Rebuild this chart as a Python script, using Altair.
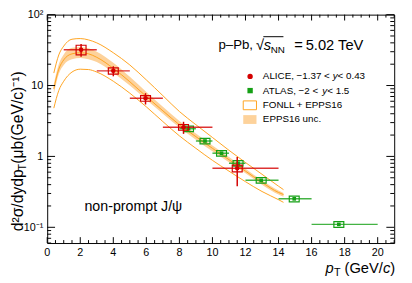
import altair as alt
import pandas as pd

# ---------------- data ----------------
curve_pt = [0.4, 0.7, 1.0, 1.5, 2.0, 2.5, 3.0, 4.0, 5.0, 6.0, 7.0, 8.0, 9.0, 10.0, 11.0, 12.0, 13.0, 14.0, 14.3]
fonll_central = [9.0, 17.0, 23.0, 28.0, 29.0, 28.0, 25.0, 17.5, 11.3, 7.0, 4.4, 2.8, 1.9, 1.3, 0.9, 0.62, 0.43, 0.31, 0.29]
fonll_upper = [15.0, 27.0, 36.0, 45.0, 46.0, 44.0, 40.0, 29.0, 19.5, 12.0, 7.2, 4.3, 2.8, 1.85, 1.22, 0.82, 0.56, 0.38, 0.34]
fonll_lower = [4.8, 8.5, 11.5, 15.5, 17.0, 16.8, 15.5, 11.5, 7.8, 5.0, 3.1, 1.95, 1.3, 0.88, 0.62, 0.44, 0.32, 0.245, 0.225]
epps_hi = [10.5, 20.0, 27.5, 34.0, 35.0, 33.5, 30.0, 21.0, 13.3, 8.1, 5.0, 3.15, 2.1, 1.43, 0.98, 0.67, 0.46, 0.33, 0.305]
epps_lo = [7.6, 14.5, 19.5, 23.5, 24.5, 23.5, 21.5, 15.2, 10.0, 6.3, 4.0, 2.55, 1.72, 1.18, 0.83, 0.58, 0.40, 0.29, 0.27]

alice_pt = [2.05, 4.0, 5.95, 8.25, 11.5]
alice_xlo = [1, 3, 5, 7, 10]
alice_xhi = [3, 5, 7, 10, 14]
alice_val = [32.0, 16.1, 6.6, 2.58, 0.68]
alice_stat = [6.5, 2.6, 1.2, 0.5, 0.3]
alice_syst = [5.0, 1.6, 0.6, 0.24, 0.075]

atlas_pt = [8.55, 9.55, 10.55, 11.55, 12.95, 14.95, 17.65]
atlas_xlo = [8, 9, 10, 11, 12, 14, 16]
atlas_xhi = [9, 10, 11, 12, 14, 16, 20]
atlas_val = [2.46, 1.65, 1.11, 0.80, 0.46, 0.252, 0.110]
atlas_stat = [0.08, 0.05, 0.035, 0.03, 0.015, 0.01, 0.005]
atlas_syst = [0.22, 0.15, 0.1, 0.072, 0.041, 0.023, 0.01]

x_major = [0, 2, 4, 6, 8, 10, 12, 14, 16, 18, 20]
x_labels = ["0", "2", "4", "6", "8", "10", "12", "14", "16", "18", "20"]
x_minor = [v / 2 for v in range(0, 43) if v % 4 != 0]
y_major = [0.1, 1, 10, 100]
y_labels = ["10⁻¹", "1", "10", "10²"]
y_minor = [0.06, 0.07, 0.08, 0.09] + [m * d for d in (0.1, 1, 10) for m in range(2, 10)]

# ---------------- layout / style ----------------
W, H = 354, 233
FONT = "Liberation Sans"
ORANGE = "#ffa31f"
BAND = "#fdd29b"
RED = "#d40000"
GREEN = "#15a015"

xs = alt.Scale(domain=[0, 21], nice=False, zero=False)
ys = alt.Scale(type="log", domain=[0.06, 100], nice=False)

curves = pd.DataFrame({
    "pt": curve_pt, "c": fonll_central, "u": fonll_upper, "l": fonll_lower,
    "bh": epps_hi, "bl": epps_lo,
})

band = alt.Chart(curves).mark_area(color=BAND, opacity=1, interpolate="monotone").encode(
    x=alt.X("pt:Q", scale=xs, axis=None),
    y=alt.Y("bl:Q", scale=ys, axis=None),
    y2="bh:Q",
)

def curve(col):
    return alt.Chart(curves).mark_line(color=ORANGE, strokeWidth=1, interpolate="monotone").encode(
        x=alt.X("pt:Q", scale=xs, axis=None),
        y=alt.Y(f"{col}:Q", scale=ys, axis=None),
    )

def dataset(pt, xlo, xhi, val, stat, syst, color, shape, halfw, msize):
    df = pd.DataFrame({"pt": pt, "xlo": xlo, "xhi": xhi, "val": val})
    df["slo"] = [v - s for v, s in zip(val, stat)]
    df["shi"] = [v + s for v, s in zip(val, stat)]
    df["ylo"] = [v - s for v, s in zip(val, syst)]
    df["yhi"] = [v + s for v, s in zip(val, syst)]
    df["bx1"] = [p - halfw for p in pt]
    df["bx2"] = [p + halfw for p in pt]
    base = alt.Chart(df)
    hbar = base.mark_rule(color=color, strokeWidth=1.5, opacity=0.8).encode(
        x=alt.X("xlo:Q", scale=xs, axis=None), x2="xhi:Q",
        y=alt.Y("val:Q", scale=ys, axis=None))
    vbar = base.mark_rule(color=color, strokeWidth=1.5).encode(
        x=alt.X("pt:Q", scale=xs, axis=None),
        y=alt.Y("slo:Q", scale=ys, axis=None), y2="shi:Q")
    box = base.mark_rect(fill=None, fillOpacity=0, stroke=color, strokeWidth=1.2).encode(
        x=alt.X("bx1:Q", scale=xs, axis=None), x2="bx2:Q",
        y=alt.Y("ylo:Q", scale=ys, axis=None), y2="yhi:Q")
    pts = base.mark_point(shape=shape, filled=True, color=color, size=msize, opacity=1).encode(
        x=alt.X("pt:Q", scale=xs, axis=None),
        y=alt.Y("val:Q", scale=ys, axis=None))
    return [hbar, vbar, box, pts]

# ---------------- ticks (inside frame, all four sides) ----------------
def xticks(vals, length):
    d = alt.Chart(pd.DataFrame({"v": vals}))
    bottom = d.mark_rule(color="black", strokeWidth=1).encode(
        x=alt.X("v:Q", scale=xs, axis=None), y=alt.value(H), y2=alt.value(H - length))
    top = d.mark_rule(color="black", strokeWidth=1).encode(
        x=alt.X("v:Q", scale=xs, axis=None), y=alt.value(0), y2=alt.value(length))
    return [bottom, top]

def yticks(vals, length):
    d = alt.Chart(pd.DataFrame({"v": vals}))
    left = d.mark_rule(color="black", strokeWidth=1).encode(
        y=alt.Y("v:Q", scale=ys, axis=None), x=alt.value(0), x2=alt.value(length))
    right = d.mark_rule(color="black", strokeWidth=1).encode(
        y=alt.Y("v:Q", scale=ys, axis=None), x=alt.value(W), x2=alt.value(W - length))
    return [left, right]

# tick labels, placed with the scales
xlab = alt.Chart(pd.DataFrame({"v": x_major, "t": x_labels})).mark_text(
    font=FONT, fontSize=11, align="center", baseline="middle", color="black").encode(
    x=alt.X("v:Q", scale=xs, axis=None), y=alt.value(H + 10), text="t:N")
ylab = alt.Chart(pd.DataFrame({"v": y_major, "t": y_labels})).mark_text(
    font=FONT, fontSize=11, align="right", baseline="middle", color="black", dy=0.5).encode(
    y=alt.Y("v:Q", scale=ys, axis=None), x=alt.value(-4), text="t:N")

# ---------------- text ----------------
one = pd.DataFrame({"a": [0]})
OY = 12  # absolute page y of plot top (used only to convert positions)

def txt(s, x, y, size=10, align="left", style="normal", angle=0, baseline="middle"):
    kw = dict(text=s, font=FONT, fontSize=size, align=align, baseline=baseline,
              fontStyle=style, color="black")
    if angle:
        kw["angle"] = angle
    return alt.Chart(one).mark_text(**kw).encode(x=alt.value(x), y=alt.value(y - OY))

texts = [
    # energy label (absolute page y)
    txt("p–Pb,", 174.7, 43.5, 13.5),
    txt("√", 213, 43.5, 15),
    txt("s", 221, 43.5, 15, style="italic"),
    txt("NN", 228, 48.5, 10),
    txt("=", 252, 43.5, 15),
    txt("5.02 TeV", 263.7, 43.5, 15),
    # legend
    txt("ALICE, −1.37 < ", 220, 75, 10),
    txt("y", 291.2, 75, 10, style="italic"),
    txt(" < 0.43", 296.2, 75, 10),
    txt("ATLAS, −2 < ", 220, 89.5, 10),
    txt("y", 280.7, 89.5, 10, style="italic"),
    txt(" < 1.5", 285.7, 89.5, 10),
    txt("FONLL + EPPS16", 220, 104.5, 10),
    txt("EPPS16 unc.", 220, 119, 10),
    # annotation
    txt("non-prompt J/ψ", 38, 208.5, 14.5),
    # x title
    txt("p", 284, 271, 15, style="italic"),
    txt("T", 292.5, 276, 11),
    txt("(GeV/", 342.5, 271, 15, align="right"),
    txt("c", 350, 271, 15, align="right", style="italic"),
    txt(")", 355, 271, 15, align="right"),
    # y title (rotated)
    txt("d²σ/dydp", -30, 233, 16, angle=270),
    txt("T", -25, 171, 11, angle=270),
    txt(" (μb(GeV/c)⁻¹)", -30, 164, 16, angle=270),
]

overline = alt.Chart(one).mark_rule(color="black", strokeWidth=1).encode(
    x=alt.value(220.5), x2=alt.value(241), y=alt.value(34.5 - OY))

legend_marks = [
    alt.Chart(one).mark_point(shape="circle", filled=True, color=RED, size=30, opacity=1).encode(
        x=alt.value(207), y=alt.value(75 - OY)),
    alt.Chart(one).mark_point(shape="square", filled=True, color=GREEN, size=30, opacity=1).encode(
        x=alt.value(207), y=alt.value(89.5 - OY)),
    alt.Chart(one).mark_rect(fill="white", stroke=ORANGE, strokeWidth=1).encode(
        x=alt.value(200), x2=alt.value(213.5), y=alt.value(100 - OY), y2=alt.value(109 - OY)),
    alt.Chart(one).mark_rect(fill=BAND, stroke=None).encode(
        x=alt.value(200), x2=alt.value(213.5), y=alt.value(114.5 - OY), y2=alt.value(123.5 - OY)),
]

layers = [band, curve("u"), curve("c"), curve("l")]
layers += dataset(atlas_pt, atlas_xlo, atlas_xhi, atlas_val, atlas_stat, atlas_syst, GREEN, "square", 0.3, 14)
layers += dataset(alice_pt, alice_xlo, alice_xhi, alice_val, alice_stat, alice_syst, RED, "circle", 0.3, 22)
layers += xticks(x_major, 6) + xticks(x_minor, 3)
layers += yticks(y_major, 8) + yticks(y_minor, 4)
layers += [xlab, ylab, overline] + legend_marks + texts

chart = alt.layer(*layers).properties(
    width=W, height=H,
    autosize=alt.AutoSizeParams(type="none"),
    padding={"left": 40, "top": 4, "right": 10, "bottom": 38},
    background="white",
).configure_view(stroke="black", strokeWidth=1)

chart.save("out.html", embed_options={"renderer": "svg", "actions": False})
